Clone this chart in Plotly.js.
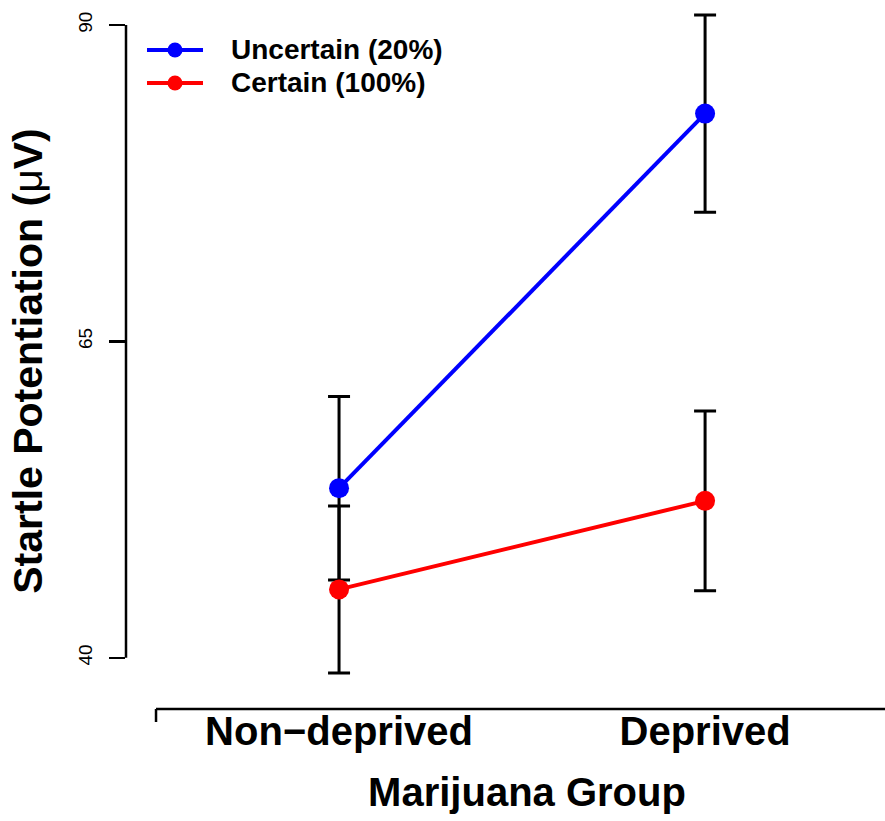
<!DOCTYPE html>
<html>
<head>
<meta charset="utf-8">
<script src="https://cdn.plot.ly/plotly-3.0.1.min.js"></script>
<style>
  html, body { margin: 0; padding: 0; overflow: hidden; background: #fff; }
  #chart { width: 930px; height: 821px; }
</style>
</head>
<body>
<div id="chart"></div>
<script>
// ---- data ----
const categories = ['Non\u2212deprived', 'Deprived'];
const xPositions = [1, 2];
const seriesNames = ['Uncertain (20%)', 'Certain (100%)'];
const seriesColors = ['#0000ff', '#ff0000'];
const uncertainMean = [53.4, 83.0];
const uncertainErr = [7.25, 7.8];
const certainMean = [45.4, 52.4];
const certainErr = [6.6, 7.1];
const yTickVals = [40, 65, 90];
const yTickText = ['40', '65', '90'];
const xAxisEnds = [0.5, 2.5];
const yAxisEnds = [40, 90];

const FONT = 'Liberation Sans, Arial, Helvetica, sans-serif';
const W = 930, H = 821;
const M = { l: 126, r: 2, t: 13, b: 112 };
const plotW = W - M.l - M.r, plotH = H - M.t - M.b;
const xRange = [0.418, 2.609];
const yRange = [35.95, 90.95];

// pixel -> paper helpers (for legend / decoration placement only)
const px = v => (v - M.l) / plotW;
const py = v => 1 - (v - M.t) / plotH;

function series(name, y, err, color) {
  return {
    type: 'scatter',
    mode: 'lines+markers',
    name: name,
    x: xPositions,
    y: y,
    cliponaxis: false,
    showlegend: false,
    line: { color: color, width: 4 },
    marker: { color: color, size: 20 },
    error_y: { type: 'data', array: err, visible: true, color: '#000', thickness: 3, width: 11 }
  };
}

const traces = [
  series(seriesNames[0], uncertainMean, uncertainErr, seriesColors[0]),
  series(seriesNames[1], certainMean, certainErr, seriesColors[1])
];

// axis lines (R-style: span only first..last tick)
const shapes = [
  { type: 'line', xref: 'x', yref: 'paper', x0: xAxisEnds[0], x1: xAxisEnds[1], y0: 0, y1: 0,
    line: { color: '#000', width: 2.5 } },
  { type: 'line', xref: 'paper', yref: 'y', x0: 0, x1: 0, y0: yAxisEnds[0], y1: yAxisEnds[1],
    line: { color: '#000', width: 2.5 } }
];
xAxisEnds.forEach(v => shapes.push({
  type: 'line', xref: 'x', yref: 'paper', x0: v, x1: v, y0: 0, y1: -13 / plotH,
  line: { color: '#000', width: 2.5 }
}));

// legend (drawn manually to match R legend geometry)
const annotations = [];
const legendRows = [50, 83];
seriesNames.forEach((name, i) => {
  const yy = py(legendRows[i]);
  shapes.push({ type: 'line', xref: 'paper', yref: 'paper', x0: px(147), x1: px(203), y0: yy, y1: yy,
    line: { color: seriesColors[i], width: 4 } });
  shapes.push({ type: 'circle', xref: 'paper', yref: 'paper', xsizemode: 'pixel', ysizemode: 'pixel',
    xanchor: px(175), yanchor: yy, x0: -7.5, x1: 7.5, y0: -7.5, y1: 7.5,
    fillcolor: seriesColors[i], line: { color: seriesColors[i], width: 0 } });
  annotations.push({ xref: 'paper', yref: 'paper', x: px(229), y: yy, xanchor: 'left', yanchor: 'middle',
    text: name, showarrow: false,
    font: { family: FONT, size: 28, weight: 'bold', color: '#000' } });
});

const layout = {
  width: W,
  height: H,
  margin: M,
  paper_bgcolor: '#fff',
  plot_bgcolor: '#fff',
  font: { family: FONT, color: '#000' },
  showlegend: false,
  xaxis: {
    range: xRange, showgrid: false, zeroline: false, showline: false,
    tickmode: 'array', tickvals: xPositions, ticktext: categories, ticks: '',
    ticklabelstandoff: -5,
    tickfont: { family: FONT, size: 40, weight: 'bold', color: '#000' },
    title: { text: 'Marijuana Group', standoff: 25,
             font: { family: FONT, size: 40, weight: 'bold', color: '#000' } }
  },
  yaxis: {
    range: yRange, showgrid: false, zeroline: false, showline: false,
    tickmode: 'array', tickvals: yTickVals, ticktext: yTickText,
    ticks: 'outside', ticklen: 16, tickwidth: 2.5, tickcolor: '#000',
    ticklabelstandoff: 9,
    tickangle: -90, tickfont: { family: FONT, size: 19, color: '#000' },
    title: { text: 'Startle Potentiation (<span style="font-weight:normal">\u03bc</span>V)', standoff: 20,
             font: { family: FONT, size: 41, weight: 'bold', color: '#000' } }
  },
  shapes: shapes,
  annotations: annotations
};

Plotly.newPlot('chart', traces, layout, { displayModeBar: false, staticPlot: true });
</script>
</body>
</html>
